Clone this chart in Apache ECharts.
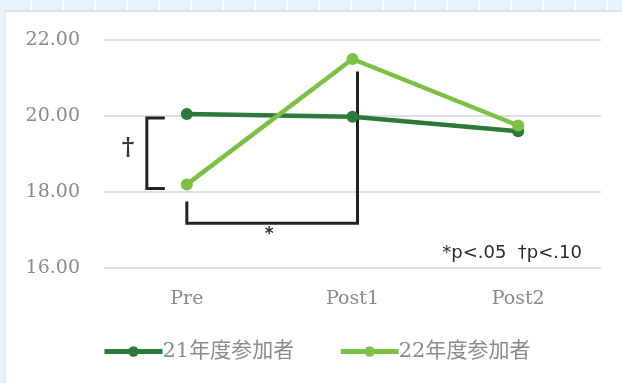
<!DOCTYPE html>
<html>
<head>
<meta charset="utf-8">
<script src="https://cdn.jsdelivr.net/npm/echarts@6/dist/echarts.min.js"></script>
<style>
  html, body { margin: 0; padding: 0; }
  body {
    width: 622px; height: 383px; overflow: hidden; position: relative;
    background-color: #e6f2fc;
    background-image: repeating-linear-gradient(90deg, transparent 0 30px, #ffffff 30px 32px);
  }
  #panel {
    position: absolute; left: 5px; top: 10px; right: 0; bottom: 0;
    background: #ffffff; border-top: 2px solid #e2e2e2; border-left: 1px solid #e8e8e8;
  }
  #chart { position: absolute; left: 0; top: 0; width: 622px; height: 383px; }
</style>
</head>
<body>
<div id="panel"></div>
<div id="chart"></div>
<script>
var categories = ["Pre", "Post1", "Post2"];
var seriesNames = ["21年度参加者", "22年度参加者"];
var values21 = [20.05, 19.98, 19.6];
var values22 = [18.2, 21.5, 19.75];
var yTicks = [16, 18, 20, 22];

var darkGreen = "#2b7a3a";
var lightGreen = "#7cc143";
var serif = "'DejaVu Serif', 'Liberation Serif', 'Noto Sans CJK JP', serif";

var chart = echarts.init(document.getElementById("chart"), null, { renderer: "canvas" });

var option = {
  animation: false,
  backgroundColor: "transparent",
  grid: { left: 104, right: 21, top: 40, bottom: 115 },
  legend: {
    bottom: 16,
    left: 97,
    itemWidth: 58,
    itemHeight: 13,
    itemGap: 44,
    lineStyle: { width: 5 },
    textStyle: { fontFamily: serif, fontSize: 21, color: "#8a8a8a", padding: [0, 0, 0, -5] },
    data: seriesNames
  },
  xAxis: {
    type: "category",
    data: categories,
    boundaryGap: true,
    axisLine: { show: false },
    axisTick: { show: false },
    axisLabel: { margin: 22, fontFamily: serif, fontSize: 19, color: "#8a8a8a" }
  },
  yAxis: {
    type: "value",
    min: yTicks[0],
    max: yTicks[yTicks.length - 1],
    interval: 2,
    axisLine: { show: false },
    axisTick: { show: false },
    splitLine: { lineStyle: { color: "#e0e0e0", width: 2 } },
    axisLabel: {
      margin: 24, fontFamily: serif, fontSize: 19, color: "#8a8a8a",
      formatter: function (v) { return v.toFixed(2); }
    }
  },
  series: [
    {
      name: seriesNames[0], type: "line", data: values21,
      symbol: "circle", symbolSize: 12,
      lineStyle: { color: darkGreen, width: 4.5 },
      itemStyle: { color: darkGreen }
    },
    {
      name: seriesNames[1], type: "line", data: values22,
      symbol: "circle", symbolSize: 12,
      lineStyle: { color: lightGreen, width: 4.5 },
      itemStyle: { color: lightGreen }
    }
  ]
};

chart.setOption(option);

// significance brackets placed relative to the axes
function px(i, v) { return chart.convertToPixel({ gridIndex: 0 }, [i, v]); }
var pre21 = px(0, values21[0]);
var pre22 = px(0, values22[0]);
var post1 = px(1, 21.17);
var low = px(0, 17.18);
var startLow = px(0, 17.75);
var bx = pre21[0] - 40;
var ink = "#222222";
var lw = 3;

chart.setOption({
  graphic: [
    { type: "polyline", silent: true,
      shape: { points: [[bx + 18, pre21[1] + 4], [bx, pre21[1] + 4], [bx, pre22[1] + 4], [bx + 18, pre22[1] + 4]] },
      style: { stroke: ink, lineWidth: lw, fill: null } },
    { type: "text", left: bx - 25, top: (pre21[1] + pre22[1]) / 2 - 12,
      style: { text: "†", font: "bold 24px " + serif, fill: "#333333" } },
    { type: "polyline", silent: true,
      shape: { points: [[startLow[0], startLow[1]], [low[0], low[1]], [post1[0] + 5, low[1]], [post1[0] + 5, post1[1]]] },
      style: { stroke: ink, lineWidth: lw, fill: null } },
    { type: "text", left: (low[0] + post1[0]) / 2 - 5, top: low[1] + 3,
      style: { text: "*", font: "bold 17px 'DejaVu Sans', sans-serif", fill: "#333333" } },
    { type: "text", right: 40, top: 244,
      style: { text: "*p<.05  †p<.10", font: "18px 'DejaVu Sans', sans-serif", fill: "#2a2a2a" } }
  ]
});
</script>
</body>
</html>
